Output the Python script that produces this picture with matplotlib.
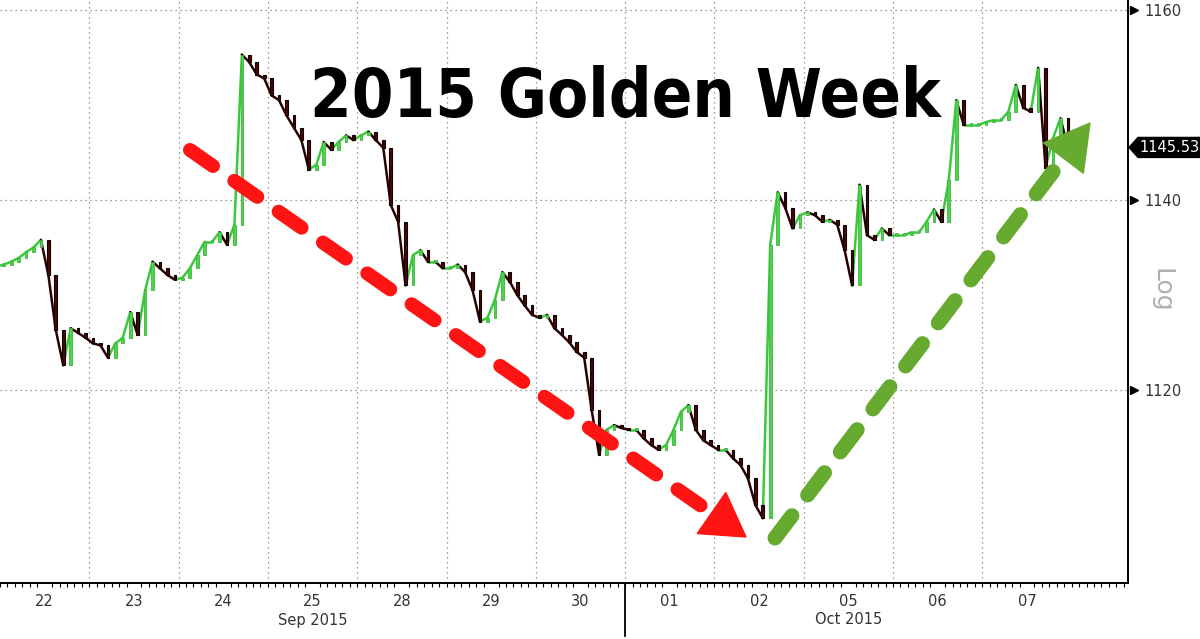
import matplotlib
matplotlib.use("Agg")
import matplotlib.pyplot as plt
from matplotlib.lines import Line2D
from matplotlib.patches import Polygon
from matplotlib.collections import LineCollection
import matplotlib.transforms as mtransforms
import numpy as np

# ---------------- data (gold spot, ~2-hour closes per trading day) ----------------
day_labels = ["22", "23", "24", "25", "28", "29", "30", "01", "02", "05", "06", "07"]
month_labels = ["Sep 2015", "Oct 2015"]
month_label_day = [3, 9]          # index of day under which the month label sits
month_break_day = 7               # boundary between Sep and Oct

first_open = 1133.0
sep22 = [1133.2, 1133.5, 1133.9, 1134.5, 1135.0, 1135.8, 1132.1, 1126.3, 1122.6, 1126.5, 1126.0, 1125.5]
sep23 = [1124.9, 1124.7, 1123.4, 1124.9, 1125.5, 1128.2, 1125.8, 1130.5, 1133.5, 1132.8, 1132.1, 1131.6]
sep24 = [1131.8, 1132.8, 1134.2, 1135.6, 1135.6, 1136.6, 1135.3, 1137.4, 1155.3, 1154.5, 1153.2, 1152.8]
sep25 = [1151.0, 1150.5, 1148.9, 1147.6, 1146.3, 1143.2, 1143.7, 1146.1, 1145.3, 1146.1, 1146.8, 1146.3]
sep28 = [1146.8, 1147.2, 1146.3, 1145.5, 1139.5, 1137.7, 1131.0, 1134.2, 1134.7, 1133.5, 1133.5, 1132.8]
sep29 = [1132.8, 1133.2, 1132.4, 1130.5, 1127.2, 1127.6, 1129.5, 1132.4, 1131.4, 1130.0, 1128.9, 1127.9]
sep30 = [1127.6, 1127.9, 1126.5, 1125.8, 1125.0, 1124.0, 1123.4, 1117.9, 1113.2, 1115.8, 1116.3, 1116.0]
oct01 = [1115.8, 1115.8, 1114.9, 1114.2, 1113.7, 1114.2, 1115.8, 1117.7, 1118.4, 1115.8, 1114.7, 1114.2]
oct02 = [1113.7, 1113.7, 1112.8, 1112.1, 1110.7, 1107.9, 1106.5, 1135.3, 1140.8, 1139.2, 1137.0, 1138.4]
oct05 = [1138.7, 1138.4, 1137.7, 1137.9, 1137.4, 1134.7, 1131.0, 1141.6, 1136.3, 1135.8, 1137.0, 1136.3]
oct06 = [1136.3, 1136.3, 1136.6, 1136.6, 1137.7, 1139.0, 1137.7, 1142.1, 1150.5, 1147.9, 1147.9, 1147.9]
oct07 = [1148.2, 1148.4, 1148.4, 1149.3, 1152.1, 1149.7, 1149.3, 1153.9, 1143.4, 1146.5, 1148.6, 1145.53]

y_ticks = [1120, 1140, 1160]
last_price = 1145.53
title_text = "2015 Golden Week"

days = [sep22, sep23, sep24, sep25, sep28, sep29, sep30, oct01, oct02, oct05, oct06, oct07]

# ---------------- figure ----------------
W, H = 1200, 639
fig = plt.figure(figsize=(W / 100, H / 100), dpi=100)
fig.patch.set_facecolor("white")
ax = fig.add_axes([0, 1 - 583 / H, 1128 / W, 583 / H])
ax.set_facecolor("white")

closes = []
xs = []
for d, vals in enumerate(days):
    n = len(vals)
    for k, v in enumerate(vals):
        xs.append(d + (k + 0.5) / n)
        closes.append(v)
closes = np.array(closes)
xs = np.array(xs)
opens = np.concatenate([[first_open], closes[:-1]])

up = closes >= opens
GREEN = "#52d052"
DARK = "#4a0808"
bw = 0.36 / 12
lo = np.minimum(opens, closes)
hi = np.maximum(opens, closes)
ht = np.maximum(hi - lo, 0.2)

# thin connecting trace between consecutive bars
xprev = np.concatenate([[xs[0] - 1 / 12], xs[:-1]])
segs = [[(x0, o), (x1, c)] for x0, x1, o, c in zip(xprev, xs, opens, closes)]
ax.add_collection(LineCollection(segs, colors=np.where(up, "#3cc83c", "#2a0000"), linewidths=1.8,
                                 capstyle="round", zorder=3))
# candle bodies
ax.bar(xs[up], ht[up], bottom=lo[up], width=bw, color=GREEN, edgecolor="#38b838",
       linewidth=0.6, zorder=4)
ax.bar(xs[~up], ht[~up], bottom=lo[~up], width=bw, color=DARK, edgecolor="#100000",
       linewidth=0.8, zorder=4)

ax.set_xlim((0 - 87) / 89.5 + 1, (1128 - 87) / 89.5 + 1)
ax.set_ylim(1161.05 - 583 / 9.5, 1161.05)

# grid
for yv in y_ticks:
    ax.axhline(yv, color="#7a7a7a", linewidth=0.9, linestyle=(0, (1, 3)), zorder=1)
for d in range(1, len(days)):
    ax.axvline(d, color="#7a7a7a", linewidth=0.9, linestyle=(0, (1, 3)), zorder=1)

# spines
for s in ["left", "top"]:
    ax.spines[s].set_visible(False)
for s in ["right", "bottom"]:
    ax.spines[s].set_color("black")
    ax.spines[s].set_linewidth(1.4)

# x ticks
ax.set_xticks([d + 0.5 for d in range(len(days))])
ax.set_xticklabels(day_labels, fontsize=10.5, color="#333333")
ax.tick_params(axis="x", length=0, pad=8)
ax.set_xticks(np.arange(0, len(days) + 0.6, 1 / 12), minor=True)
ax.tick_params(axis="x", which="minor", length=3, width=0.8, color="black", direction="out")

trans_x = mtransforms.blended_transform_factory(ax.transData, ax.transAxes)
for lab, d in zip(month_labels, month_label_day):
    ax.text(d + 0.5, -(620 - 583) / 583, lab, transform=trans_x, ha="center", va="center",
            fontsize=10.5, color="#333333")
ax.add_line(Line2D([month_break_day, month_break_day], [0, -(636 - 583) / 583], transform=trans_x,
                   color="black", linewidth=1.3, clip_on=False))

# y ticks on right
ax.yaxis.tick_right()
ax.set_yticks(y_ticks)
ax.set_yticklabels([str(v) for v in y_ticks], fontsize=10.5, color="#333333")
ax.tick_params(axis="y", length=0, pad=12)
trans_y = mtransforms.blended_transform_factory(ax.transAxes, ax.transData)
ax.plot([1 + 6 / 1128] * len(y_ticks), y_ticks, ls="none", marker=">", ms=6, color="black",
        transform=trans_y, clip_on=False, zorder=5)

# "Log" label
fig.text(1162 / W, 1 - 290 / H, "Log", rotation=-90, ha="center", va="center",
         fontsize=18, color="#b0b0b0")

# last price box
py = ax.transData.transform((0, last_price))[1]
ypx = H - py
box = [(1129, ypx), (1138, ypx - 10), (1205, ypx - 10), (1205, ypx + 10), (1138, ypx + 10)]
fig.add_artist(Polygon([(x / W, 1 - y / H) for x, y in box], closed=True, transform=fig.transFigure,
                       facecolor="black", edgecolor="black"))
fig.text(1139 / W, 1 - ypx / H, f"{last_price:.2f}", ha="left", va="center", fontsize=10.5,
         color="white")

# title
fig.text(625 / W, 1 - 98 / H, title_text, ha="center", va="center", fontsize=48,
         fontweight="bold", family="DejaVu Sans", fontstretch="condensed", color="black")


# dashed arrows
def dashed_arrow(p0, tip, color, lw_px, head_len, head_half, dash_on, dash_off):
    p0 = np.array(p0, float)
    tip = np.array(tip, float)
    u = (tip - p0) / np.linalg.norm(tip - p0)
    perp = np.array([-u[1], u[0]])
    base = tip - head_len * u
    end = base + 4 * u
    lw_pt = lw_px * 0.72
    ln = Line2D([p0[0] / W, end[0] / W], [1 - p0[1] / H, 1 - end[1] / H], transform=fig.transFigure,
                color=color, linewidth=lw_pt, solid_capstyle="round", dash_capstyle="round")
    ln.set_linestyle((0, (dash_on / lw_px, dash_off / lw_px)))
    fig.add_artist(ln)
    pts = [tip, base + head_half * perp, base - head_half * perp]
    fig.add_artist(Polygon([(x / W, 1 - y / H) for x, y in pts], closed=True,
                           transform=fig.transFigure, facecolor=color, edgecolor=color, linewidth=1))


dashed_arrow((190, 150), (746, 537), "#ff1414", 14, 42, 25, 28, 26)
dashed_arrow((775, 538), (1090, 123), "#66aa30", 15, 44, 25, 28, 26)

fig.savefig("out.png", dpi=100, facecolor="white")
